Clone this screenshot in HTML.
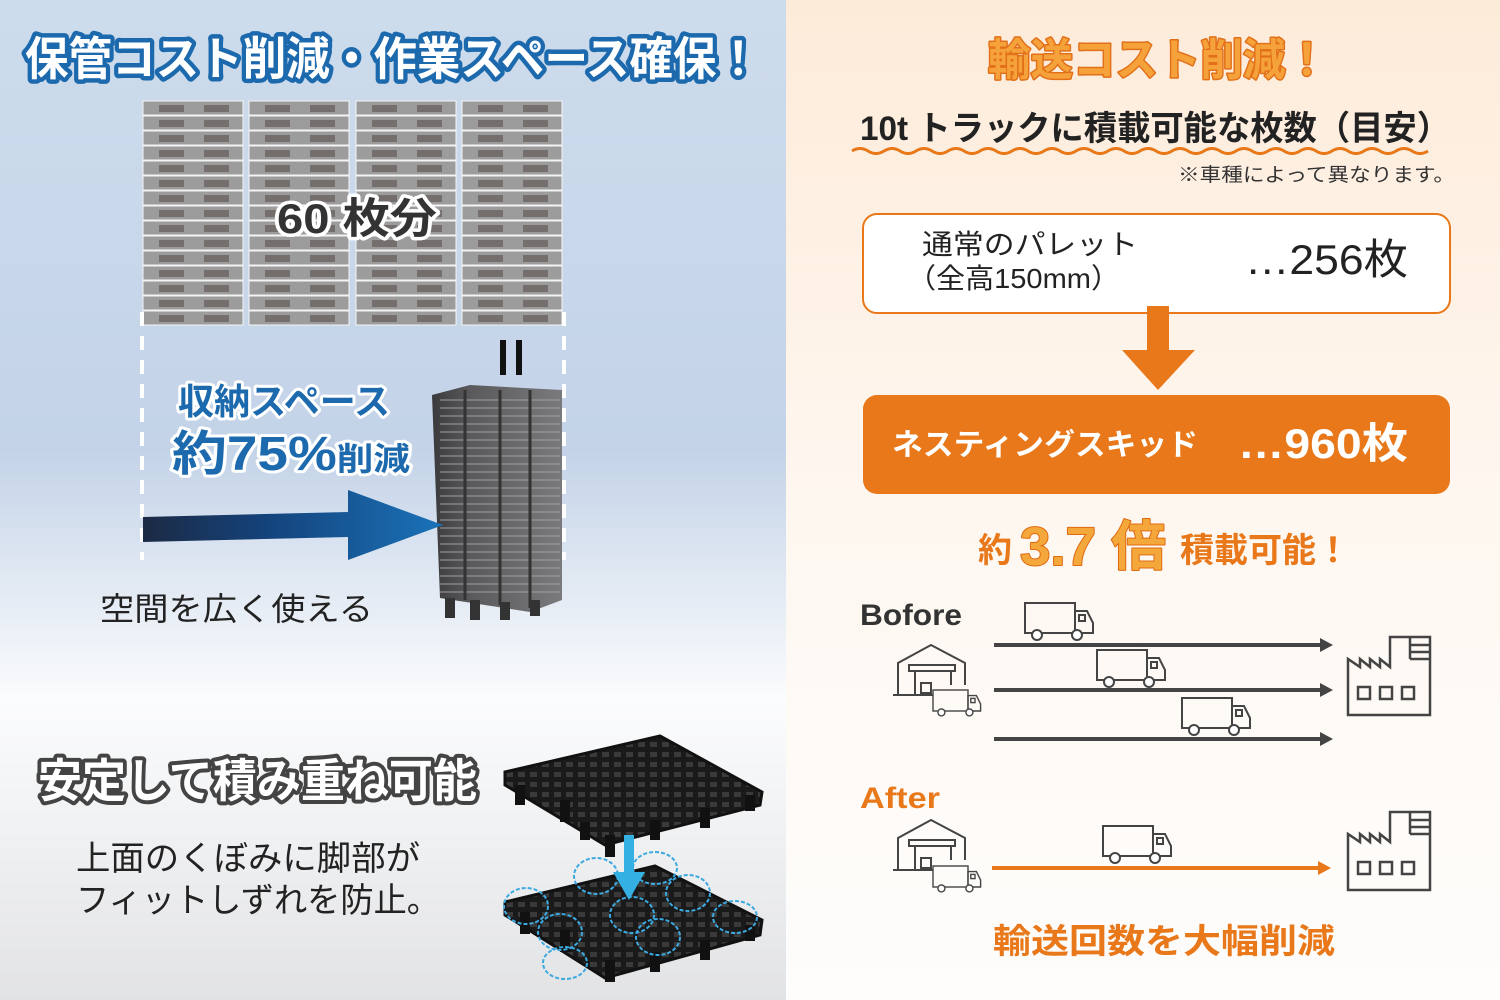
<!DOCTYPE html>
<html><head><meta charset="utf-8"><style>
html,body{margin:0;padding:0;width:1500px;height:1000px;overflow:hidden}
text{font-family:"Liberation Sans","Noto Sans CJK JP",sans-serif}
.st{paint-order:stroke fill;stroke-linejoin:round}
</style></head><body>
<svg width="1500" height="1000" viewBox="0 0 1500 1000" xmlns="http://www.w3.org/2000/svg">
<defs>
<linearGradient id="lbg" x1="0" y1="0" x2="0" y2="1">
<stop offset="0" stop-color="#cddcec"/><stop offset="0.45" stop-color="#c4d3e8"/><stop offset="0.7" stop-color="#fbfcfd"/><stop offset="1" stop-color="#e2e3e5"/></linearGradient>
<linearGradient id="rbg" x1="0" y1="0" x2="0" y2="1">
<stop offset="0" stop-color="#fdebd9"/><stop offset="0.5" stop-color="#fef7f0"/><stop offset="1" stop-color="#fefdfc"/></linearGradient>
<linearGradient id="arr" x1="0" y1="0" x2="1" y2="0">
<stop offset="0" stop-color="#1c2a44"/><stop offset="0.4" stop-color="#14427a"/><stop offset="1" stop-color="#1a72b8"/></linearGradient>
<linearGradient id="tow" x1="0" y1="0" x2="1" y2="0">
<stop offset="0" stop-color="#3a3a3c"/><stop offset="0.3" stop-color="#5a5a5c"/><stop offset="1" stop-color="#7a7a7c"/></linearGradient>
<g id="row"><rect x="0" y="0" width="100" height="14" fill="#9c9c9c" stroke="#f4f4f4" stroke-width="1"/><rect x="16" y="4" width="25" height="7" fill="#746e6c"/><rect x="61" y="4" width="25" height="7" fill="#746e6c"/></g>
<g id="col"><use href="#row" y="0"/><use href="#row" y="15"/><use href="#row" y="30"/><use href="#row" y="45"/><use href="#row" y="60"/><use href="#row" y="75"/><use href="#row" y="90"/><use href="#row" y="105"/><use href="#row" y="120"/><use href="#row" y="135"/><use href="#row" y="150"/><use href="#row" y="165"/><use href="#row" y="180"/><use href="#row" y="195"/><use href="#row" y="210"/></g>
<g id="truck" fill="none" stroke="#444" stroke-width="2"><rect x="0" y="0" width="50" height="30"/><path d="M50 8 H62 L68 20 V30 H50 Z"/><rect x="54" y="12" width="6" height="6"/><circle cx="12" cy="32" r="5" fill="#fff"/><circle cx="52" cy="32" r="5" fill="#fff"/></g>
<g id="wh" fill="none" stroke="#444" stroke-width="2"><path d="M5 50 V18 L38 0 L72 18 V40"/><rect x="16" y="20" width="46" height="6"/><path d="M22 26 V50 M58 26 V40"/><rect x="28" y="38" width="10" height="10"/><path d="M0 50 H40"/></g>
<g id="fac" fill="none" stroke="#444" stroke-width="2.5"><path d="M0 78 V22 L12 30 V22 L22 30 V22 L32 30 V22 L42 30 V0 H82 V78 Z M62 0 V22 M62 8 H82 M62 15 H82 M62 22 H82"/><rect x="10" y="50" width="12" height="12"/><rect x="32" y="50" width="12" height="12"/><rect x="54" y="50" width="12" height="12"/></g>
<pattern id="grid" width="12" height="10" patternUnits="userSpaceOnUse"><rect width="12" height="10" fill="#1a1a1a"/><rect x="2" y="2" width="7" height="5" fill="#3a3a3a"/></pattern>
</defs>
<rect x="0" y="0" width="786" height="1000" fill="url(#lbg)"/>
<rect x="786" y="0" width="714" height="1000" fill="url(#rbg)"/>

<text x="25" y="75" font-size="46" font-weight="bold" fill="#fff" stroke="#1c6aad" stroke-width="9" class="st" textLength="735" lengthAdjust="spacingAndGlyphs">保管コスト削減・作業スペース確保！</text>

<use href="#col" x="143" y="101"/><use href="#col" x="249" y="101"/><use href="#col" x="356" y="101"/><use href="#col" x="462" y="101"/>
<text x="277" y="233" font-size="42" font-weight="bold" fill="#333" stroke="#fff" stroke-width="7" class="st" textLength="160" lengthAdjust="spacingAndGlyphs">60 枚分</text>

<path d="M142 312 V560 M564 312 V560" stroke="#fff" stroke-width="4" stroke-dasharray="14 10" fill="none"/>
<rect x="500" y="340" width="6" height="35" fill="#111"/><rect x="516" y="340" width="6" height="35" fill="#111"/>

<polygon points="432,395 470,385 562,390 562,600 530,612 440,598" fill="url(#tow)"/>
<g stroke="#a5a5a7" stroke-width="1.3" opacity="0.75">
<path d="M440 400 H560 M440 408 H560 M440 416 H560 M440 424 H560 M440 432 H560 M440 440 H560 M440 448 H560 M440 456 H560 M440 464 H560 M440 472 H560 M440 480 H560 M440 488 H560 M440 496 H560 M440 504 H560 M440 512 H560 M440 520 H560 M440 528 H560 M440 536 H560 M440 544 H560 M440 552 H560 M440 560 H560 M440 568 H560 M440 576 H560 M440 584 H560 M440 592 H560"/>
</g>
<path d="M465 390 V600 M500 390 V605 M530 390 V608" stroke="#333" stroke-width="3"/>
<rect x="445" y="598" width="10" height="20" fill="#333"/><rect x="470" y="600" width="10" height="20" fill="#333"/><rect x="500" y="602" width="10" height="18" fill="#333"/><rect x="530" y="600" width="10" height="16" fill="#333"/>

<polygon points="143,517 348,512 348,490 443,525 348,560 348,537 143,542" fill="url(#arr)"/>

<text x="178" y="414" font-size="36" font-weight="bold" fill="#1c6aad" stroke="#fff" stroke-width="6" class="st" textLength="212" lengthAdjust="spacingAndGlyphs">収納スペース</text>
<text x="172" y="470" font-size="48" font-weight="bold" fill="#1c6aad" stroke="#fff" stroke-width="6" class="st" textLength="238" lengthAdjust="spacingAndGlyphs">約75%<tspan font-size="32">削減</tspan></text>
<text x="100" y="620" font-size="32" fill="#222" textLength="273" lengthAdjust="spacingAndGlyphs">空間を広く使える</text>

<text x="38" y="797" font-size="46" font-weight="bold" fill="#fff" stroke="#444" stroke-width="8" class="st" textLength="439" lengthAdjust="spacingAndGlyphs">安定して積み重ね可能</text>
<text x="76" y="870" font-size="34" fill="#222" textLength="344" lengthAdjust="spacingAndGlyphs">上面のくぼみに脚部が</text>
<text x="76" y="912" font-size="34" fill="#222" textLength="364" lengthAdjust="spacingAndGlyphs">フィットしずれを防止。</text>

<g>
<polygon points="505,772 660,736 762,792 760,805 605,845 505,785" fill="url(#grid)" stroke="#111" stroke-width="3"/>
<rect x="515" y="785" width="10" height="20" fill="#111"/><rect x="560" y="800" width="10" height="22" fill="#111"/><rect x="605" y="835" width="10" height="22" fill="#111"/><rect x="650" y="820" width="10" height="20" fill="#111"/><rect x="700" y="808" width="10" height="20" fill="#111"/><rect x="745" y="795" width="10" height="16" fill="#111"/><rect x="580" y="822" width="10" height="18" fill="#111"/>
<polygon points="505,902 655,866 762,920 760,935 605,978 505,915" fill="url(#grid)" stroke="#111" stroke-width="3"/>
<rect x="520" y="912" width="10" height="22" fill="#111"/><rect x="560" y="930" width="10" height="22" fill="#111"/><rect x="605" y="960" width="10" height="22" fill="#111"/><rect x="650" y="952" width="10" height="20" fill="#111"/><rect x="700" y="940" width="10" height="20" fill="#111"/><rect x="745" y="925" width="10" height="16" fill="#111"/>
<g fill="none" stroke="#3ca9e0" stroke-width="2" stroke-dasharray="4 2">
<ellipse cx="526" cy="906" rx="22" ry="18"/><ellipse cx="596" cy="876" rx="22" ry="18"/><ellipse cx="655" cy="868" rx="22" ry="16"/><ellipse cx="688" cy="893" rx="22" ry="18"/><ellipse cx="632" cy="915" rx="22" ry="18"/><ellipse cx="560" cy="932" rx="22" ry="18"/><ellipse cx="735" cy="917" rx="22" ry="16"/><ellipse cx="658" cy="937" rx="22" ry="18"/><ellipse cx="565" cy="963" rx="22" ry="16"/>
</g>
<polygon points="624,835 634,835 634,872 645,872 629,900 613,872 624,872" fill="#35b0e3"/>
</g>

<!-- RIGHT -->
<text x="988" y="75" font-size="44" font-weight="bold" fill="#f6a23a" stroke="#e2701a" stroke-width="3" class="st" textLength="340" lengthAdjust="spacingAndGlyphs">輸送コスト削減！</text>
<text x="860" y="140" font-size="34" font-weight="bold" fill="#222" textLength="590" lengthAdjust="spacingAndGlyphs">10t トラックに積載可能な枚数（目安）</text>
<path d="M852 151 q8 -5 16 0 t16 0 t16 0 t16 0 t16 0 t16 0 t16 0 t16 0 t16 0 t16 0 t16 0 t16 0 t16 0 t16 0 t16 0 t16 0 t16 0 t16 0 t16 0 t16 0 t16 0 t16 0 t16 0 t16 0 t16 0 t16 0 t16 0 t16 0 t16 0 t16 0 t16 0 t16 0 t16 0 t16 0 t16 0 t16 0" fill="none" stroke="#e8781a" stroke-width="3"/>
<text x="1178" y="181" font-size="19" fill="#333" textLength="277" lengthAdjust="spacingAndGlyphs">※車種によって異なります。</text>

<rect x="863" y="214" width="587" height="99" rx="14" fill="#fff" stroke="#e8781a" stroke-width="2"/>
<text x="922" y="254" font-size="28" fill="#222" textLength="216" lengthAdjust="spacingAndGlyphs">通常のパレット</text>
<text x="907" y="288" font-size="28" fill="#222" textLength="213" lengthAdjust="spacingAndGlyphs">（全高150mm）</text>
<text x="1245" y="274" font-size="42" fill="#222" textLength="163" lengthAdjust="spacingAndGlyphs">…256枚</text>
<rect x="1147" y="306" width="22" height="45" fill="#e8781a"/>
<polygon points="1122,350 1195,350 1158,390" fill="#e8781a"/>

<rect x="863" y="395" width="587" height="99" rx="14" fill="#e8781a"/>
<text x="892" y="455" font-size="30" font-weight="bold" fill="#fff" textLength="306" lengthAdjust="spacingAndGlyphs">ネスティングスキッド</text>
<text x="1238" y="458" font-size="42" font-weight="bold" fill="#fff" textLength="170" lengthAdjust="spacingAndGlyphs">…960枚</text>

<text x="978" y="562" font-size="34" font-weight="bold" fill="#e8781a">約</text>
<text x="1020" y="565" font-size="54" font-weight="bold" fill="#f4a83c" stroke="#e06a10" stroke-width="2" class="st" textLength="146" lengthAdjust="spacingAndGlyphs">3.7 倍</text>
<text x="1180" y="562" font-size="34" font-weight="bold" fill="#e8781a">積載可能！</text>

<text x="860" y="625" font-size="30" font-weight="bold" fill="#333" textLength="102" lengthAdjust="spacingAndGlyphs">Bofore</text>
<g stroke="#444" stroke-width="4"><path d="M994 645 H1322 M994 690 H1322 M994 739 H1322"/></g>
<g fill="#444"><polygon points="1320,638 1333,645 1320,652"/><polygon points="1320,683 1333,690 1320,697"/><polygon points="1320,732 1333,739 1320,746"/></g>
<use href="#truck" x="1025" y="603"/><use href="#truck" x="1097" y="650"/><use href="#truck" x="1182" y="698"/>
<use href="#wh" x="893" y="645"/><use href="#truck" x="933" y="690" transform="translate(933 690) scale(0.7) translate(-933 -690)"/>
<use href="#fac" x="1348" y="637"/>

<text x="860" y="808" font-size="30" font-weight="bold" fill="#e8781a" textLength="80" lengthAdjust="spacingAndGlyphs">After</text>
<path d="M992 868 H1320" stroke="#e8781a" stroke-width="4"/>
<polygon points="1318,861 1331,868 1318,875" fill="#e8781a"/>
<use href="#truck" x="1103" y="826"/>
<use href="#wh" x="893" y="820"/><use href="#truck" x="933" y="866" transform="translate(933 866) scale(0.7) translate(-933 -866)"/>
<use href="#fac" x="1348" y="812"/>

<text x="993" y="953" font-size="34" font-weight="bold" fill="#e8781a" textLength="342" lengthAdjust="spacingAndGlyphs">輸送回数を大幅削減</text>
</svg>
</body></html>
